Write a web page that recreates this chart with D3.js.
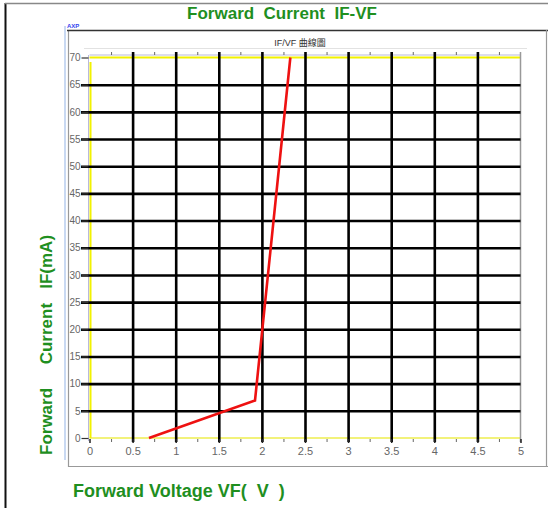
<!DOCTYPE html>
<html><head><meta charset="utf-8">
<script src="https://cdn.jsdelivr.net/npm/d3@7"></script>
<style>
html,body{margin:0;padding:0;background:#fff;}
svg{display:block;}
</style></head>
<body>
<script>
const vfValues = [0.69, 1.92, 2.33];
const ifValues = [0, 6.9, 70];
const xTicks = [0, 0.5, 1, 1.5, 2, 2.5, 3, 3.5, 4, 4.5, 5];
const yTicks = [0, 5, 10, 15, 20, 25, 30, 35, 40, 45, 50, 55, 60, 65, 70];
const xMinorTicks = [0.25, 0.75, 1.25, 1.75, 2.25, 2.75, 3.25, 3.75, 4.25, 4.75];
const title = "Forward  Current  IF-VF";
const subTitle = "IF/VF 曲線圖";
const xLabel = "Forward Voltage VF(  V  )";
const yLabel = "Forward     Current   IF(mA)";

const W = 548, H = 508;
const svg = d3.select("body").append("svg").attr("width", W).attr("height", H);
svg.append("rect").attr("width", W).attr("height", H).attr("fill", "#fff");

const x = d3.scaleLinear().domain([0, 5]).range([89.5, 520.5]);
const y = d3.scaleLinear().domain([0, 70]).range([438, 57.5]);
const green = "#1f8f1f";

// outer frame
svg.append("line").attr("x1", 5.5).attr("x2", 5.5).attr("y1", 3).attr("y2", H).attr("stroke", "#111").attr("stroke-width", 2);
svg.append("line").attr("x1", 5).attr("x2", W).attr("y1", 3.5).attr("y2", 3.5).attr("stroke", "#888").attr("stroke-width", 1.5);

// panel
svg.append("line").attr("x1", 65).attr("x2", 65).attr("y1", 26).attr("y2", 460).attr("stroke", "#c9d9f2").attr("stroke-width", 2);
svg.append("line").attr("x1", 68.5).attr("x2", 68.5).attr("y1", 30).attr("y2", 467).attr("stroke", "#999").attr("stroke-width", 1.2);
svg.append("line").attr("x1", 67).attr("x2", W).attr("y1", 30.5).attr("y2", 30.5).attr("stroke", "#333").attr("stroke-width", 1.5);
svg.append("line").attr("x1", 546.5).attr("x2", 546.5).attr("y1", 30).attr("y2", 467).attr("stroke", "#999").attr("stroke-width", 1.2);
svg.append("line").attr("x1", 68).attr("x2", W).attr("y1", 466.5).attr("y2", 466.5).attr("stroke", "#999").attr("stroke-width", 1.2);
svg.append("text").attr("x", 67).attr("y", 28).attr("font-size", 6).attr("font-weight", "bold")
  .attr("fill", "#3344ee").attr("font-family", "Liberation Sans, Arial, sans-serif").text("AXP");

// subtitle
svg.append("text").attr("x", 300).attr("y", 45.5).attr("text-anchor", "middle")
  .attr("font-size", 9).attr("fill", "#333").attr("font-family", "Liberation Sans, 'Noto Sans CJK TC', sans-serif").text(subTitle);
svg.append("line").attr("x1", 84).attr("x2", 527).attr("y1", 48.5).attr("y2", 48.5).attr("stroke", "#e2e2e2").attr("stroke-width", 1.2);

// top axis (lavender) with minor ticks
svg.append("line").attr("x1", x(0)).attr("x2", x(5)).attr("y1", 55).attr("y2", 55).attr("stroke", "#b9b9dc").attr("stroke-width", 1);
svg.append("g").attr("transform", "translate(0,55)")
  .call(d3.axisTop(x).tickValues(xMinorTicks).tickSize(3).tickFormat(""))
  .call(g => { g.select(".domain").remove(); g.selectAll("line").attr("stroke", "#666"); });

// left axis line
svg.append("line").attr("x1", 88.5).attr("x2", 88.5).attr("y1", 55).attr("y2", 441).attr("stroke", "#b9b9dc").attr("stroke-width", 1);

// yellow boundary lines
svg.append("line").attr("x1", x(0)).attr("x2", x(5)).attr("y1", y(70)).attr("y2", y(70)).attr("stroke", "#f2f200").attr("stroke-width", 2);
svg.append("line").attr("x1", x(0)).attr("x2", x(5)).attr("y1", y(0)).attr("y2", y(0)).attr("stroke", "#f2f27a").attr("stroke-width", 2);
svg.append("line").attr("x1", x(0) + 1).attr("x2", x(0) + 1).attr("y1", 62).attr("y2", y(0)).attr("stroke", "#f2f200").attr("stroke-width", 2);

// right boundary
svg.append("line").attr("x1", x(5)).attr("x2", x(5)).attr("y1", 52).attr("y2", 442).attr("stroke", "#999").attr("stroke-width", 1.5);

// grid: vertical
svg.append("g").attr("transform", "translate(0,442)")
  .call(d3.axisBottom(x).tickValues(xTicks.filter(v => v > 0 && v < 5)).tickSize(-(442 - 52)).tickFormat(""))
  .call(g => { g.select(".domain").remove(); g.selectAll("line").attr("stroke", "#000").attr("stroke-width", 2.6); });
// grid: horizontal
svg.append("g").attr("transform", `translate(${x(5)},0)`)
  .call(d3.axisLeft(y).tickValues(yTicks.filter(v => v > 0 && v < 70)).tickSize(x(5) - 81).tickFormat(""))
  .call(g => { g.select(".domain").remove(); g.selectAll("line").attr("stroke", "#000").attr("stroke-width", 2.6); });

// bottom axis ticks and labels
const tickFont = "'Liberation Sans Narrow', 'Liberation Sans', Arial, sans-serif";
svg.append("g").attr("transform", `translate(0,${y(0) + 1})`)
  .call(d3.axisBottom(x).tickValues(xMinorTicks).tickSize(3).tickFormat(""))
  .call(g => { g.select(".domain").remove(); g.selectAll("line").attr("stroke", "#666"); });
svg.append("g").attr("transform", `translate(0,${y(0) + 1})`)
  .call(d3.axisBottom(x).tickValues(xTicks).tickSize(4).tickPadding(4).tickFormat(d => String(d)))
  .call(g => {
    g.select(".domain").remove();
    g.selectAll("line").attr("stroke", "#222").attr("stroke-width", 1.5);
    g.selectAll("text").attr("fill", "#666").attr("font-size", 11).attr("font-family", tickFont);
  });
// left axis ticks and labels
svg.append("g").attr("transform", "translate(88.5,0)")
  .call(d3.axisLeft(y).tickValues(yTicks).tickSize(7).tickPadding(1).tickFormat(d => String(d)))
  .call(g => {
    g.select(".domain").remove();
    g.selectAll("line").attr("stroke", "#333").attr("stroke-width", 1.2);
    g.selectAll("text").attr("fill", "#666").attr("font-size", 10).attr("font-family", tickFont);
  });

// curve
const pts = vfValues.map((v, i) => [v, ifValues[i]]);
svg.append("path").datum(pts)
  .attr("d", d3.line().x(d => x(d[0])).y(d => y(d[1])))
  .attr("fill", "none").attr("stroke", "#ee1111").attr("stroke-width", 2.6).attr("stroke-linejoin", "miter");

// titles
const labFont = "'Liberation Sans', Arial, sans-serif";
svg.append("text").attr("x", 282).attr("y", 19).attr("text-anchor", "middle")
  .attr("font-size", 17).attr("font-weight", "bold").attr("fill", green).attr("font-family", labFont)
  .style("white-space", "pre").text(title);
svg.append("text").attr("x", 73).attr("y", 497)
  .attr("font-size", 18).attr("font-weight", "bold").attr("fill", green).attr("font-family", labFont)
  .style("white-space", "pre").text(xLabel);
svg.append("text").attr("transform", "translate(52,455) rotate(-90)")
  .attr("font-size", 17).attr("font-weight", "bold").attr("fill", green).attr("font-family", labFont)
  .style("white-space", "pre").text(yLabel);
</script>
</body></html>
